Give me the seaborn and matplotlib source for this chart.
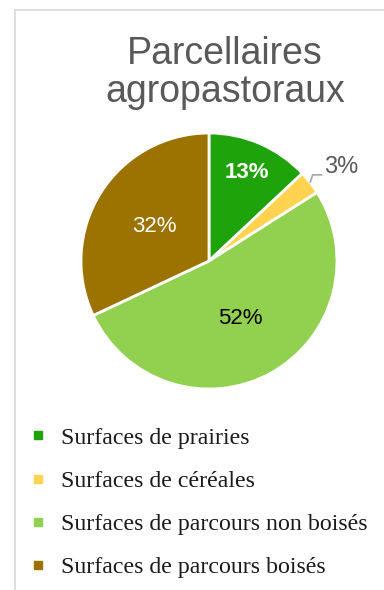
import matplotlib
matplotlib.use("Agg")
import matplotlib.pyplot as plt
import seaborn as sns
import numpy as np
from matplotlib.lines import Line2D

categories = ["Surfaces de prairies", "Surfaces de céréales",
              "Surfaces de parcours non boisés", "Surfaces de parcours boisés"]
values = [13, 3, 52, 32]
labels = ["13%", "3%", "52%", "32%"]
colors = ["#1FA30A", "#FFD34F", "#92D050", "#9C7200"]
title = "Parcellaires\nagropastoraux"

sns.set_theme(style="white")
plt.rcParams['font.family'] = ['Liberation Sans', 'DejaVu Sans']

W, H = 384, 590
fig = plt.figure(figsize=(W/100, H/100), dpi=100)
fig.patch.set_facecolor("white")

# chart border (left & top)
fig.add_artist(Line2D([15/W, 15/W], [0, 1 - 10/H], color="#D9D9D9", lw=1.2))
fig.add_artist(Line2D([15/W, 1], [1 - 10/H, 1 - 10/H], color="#D9D9D9", lw=1.2))

cx, cy, r = 209, 261, 128
ax = fig.add_axes([(cx - r)/W, (H - cy - r)/H, 2*r/W, 2*r/H])
wedges, _ = ax.pie(values, colors=sns.color_palette(colors), startangle=90,
                   counterclock=False, radius=1,
                   wedgeprops=dict(edgecolor="white", linewidth=2))
ax.set_xlim(-1, 1)
ax.set_ylim(-1, 1)
ax.set_aspect("auto")
ax.axis("off")

def place(i, frac, **kw):
    w = wedges[i]
    ang = np.deg2rad((w.theta1 + w.theta2) / 2)
    ax.text(frac*np.cos(ang), frac*np.sin(ang), labels[i], ha="center", va="center", **kw)

place(0, 0.75, color="white", fontsize=16, fontweight="bold")
place(2, 0.51, color="black", fontsize=16)
place(3, 0.51, color="white", fontsize=16)

# 3% label with leader line
w = wedges[1]
ang = np.deg2rad((w.theta1 + w.theta2) / 2)
x0, y0 = np.cos(ang)*1.0, np.sin(ang)*1.0
x1, y1 = x0 + 0.02, y0 + 0.06
ax.plot([x0, x1, x1 + 0.07], [y0, y1, y1], color="#A6A6A6", lw=1.2, clip_on=False)
ax.text(x1 + 0.09, y1 + 0.06, labels[1], ha="left", va="center", color="#595959", fontsize=17)

fig.text(225/W, 1 - 73/H, title, ha="center", va="center", color="#595959",
         fontsize=27, linespacing=1.06)

handles = [Line2D([0], [0], marker="s", linestyle="", markersize=5.5,
                  markerfacecolor=c, markeredgecolor=c) for c in colors]
leg = fig.legend(handles, categories, loc="upper left", bbox_to_anchor=(28/W, 1 - 427/H),
                 frameon=False, handletextpad=0.6, labelspacing=0.9,
                 prop={"family": "Liberation Serif", "size": 17.2}, handlelength=0.8,
                 borderaxespad=0, borderpad=0)
for t in leg.get_texts():
    t.set_color("#1a1a1a")

fig.savefig("out.png", dpi=100, facecolor="white")
